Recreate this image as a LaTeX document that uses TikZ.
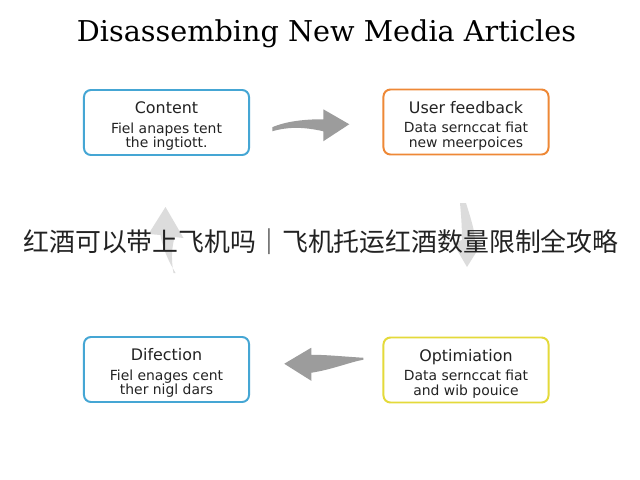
\documentclass[tikz,border=0pt]{standalone}
\usepackage{xcolor}
\usepackage{tikz}
\usepackage{fontspec}
\setmainfont{DejaVu Serif}
\setsansfont{DejaVu Sans}
\newfontfamily\cjk{Noto Sans CJK SC}
\usetikzlibrary{positioning,calc}
\definecolor{boxblue}{HTML}{45A6D4}
\definecolor{boxorange}{HTML}{EE8836}
\definecolor{boxyellow}{HTML}{E4DA3A}
\definecolor{arrgray}{HTML}{9C9C9C}
\definecolor{arrlight}{HTML}{DCDCDC}
\definecolor{inkgray}{HTML}{222222}
\newcommand{\cardhead}[1]{{\rule{0pt}{14pt}\fontsize{11.3}{13}\selectfont #1}}

\begin{document}
\begin{tikzpicture}[x=0.025cm,y=-0.025cm,every node/.style={outer sep=0pt,inner sep=0pt}]
\tikzstyle{card}=[draw,line width=1.4pt,rounded corners=5pt,fill=white,minimum width=4.125cm,
minimum height=1.625cm,align=center,text=inkgray,font=\sffamily\fontsize{9.9}{10.6}\selectfont]
\tikzstyle{bigarrow}=[fill=arrgray,draw=none]
\tikzstyle{faintarrow}=[fill=arrlight,draw=none]
\useasboundingbox[fill=white] (0,0) rectangle (640,480);
\node (T) [anchor=base,text=black] at (326.5,41) {\fontsize{20.4}{24}\selectfont Disassembing New Media Articles};
\node (C) [card,draw=boxblue] at (166.5,122.5) {\cardhead{Content}\\[3pt] Fiel anapes tent\\ the ingtiott.};
\node (U) [card,draw=boxorange] at (466,122) {\cardhead{User feedback}\\[3pt] Data sernccat fiat\\ new meerpoices};
\node (D) [card,draw=boxblue] at (166.5,369.5) {\cardhead{Difection}\\[3pt] Fiel enages cent\\ ther nigl dars};
\node (O) [card,draw=boxyellow] at (466,370) {\cardhead{Optimiation}\\[3pt] Data sernccat fiat\\ and wib pouice};
\coordinate (a1) at ($(C.east)!.5!(U.west)$);
\coordinate (a2) at ($(O.west)!.5!(D.east)$);
\coordinate (a3) at ($(U.south)!.5!(O.north)$);
\coordinate (a4) at ($(D.north)!.5!(C.south)$);
\fill[bigarrow,shift={(a1)}] (-44,5) .. controls (-30,-1) and (-12,-3) .. (7,-3) -- (7,-13) -- (33,2) -- (7,19) -- (7,9) .. controls (-15,4) and (-30,5) .. (-44,9) -- cycle;
\fill[bigarrow,shift={(a2)}] (47,-12) .. controls (30,-13) and (10,-15) .. (-5,-15) -- (-5,-22) -- (-32,-6) -- (-5,11) -- (-5,3) .. controls (15,0) and (35,-8) .. (47,-10) -- cycle;
\fill[faintarrow,shift={(a3)}] (-6,-43) -- (0,-43) .. controls (4,-30) and (9,-15) .. (9,-5) -- (16,-3) -- (1,21) -- (-13,-3) -- (-4,-6) .. controls (-4,-20) and (-5,-32) .. (-6,-43) -- cycle;
\fill[faintarrow,shift={(a4)}] (7,27) .. controls (4,10) and (6,0) .. (8,-9) -- (17,-8) -- (-1,-39) -- (-18,-12) -- (-6,-11) .. controls (-4,2) and (2,15) .. (9,27) -- cycle;
\node (CN) [text=inkgray] at (321,242) {\cjk\fontsize{18.4}{22}\selectfont 红酒可以带上飞机吗｜飞机托运红酒数量限制全攻略};
\end{tikzpicture}
\end{document}
